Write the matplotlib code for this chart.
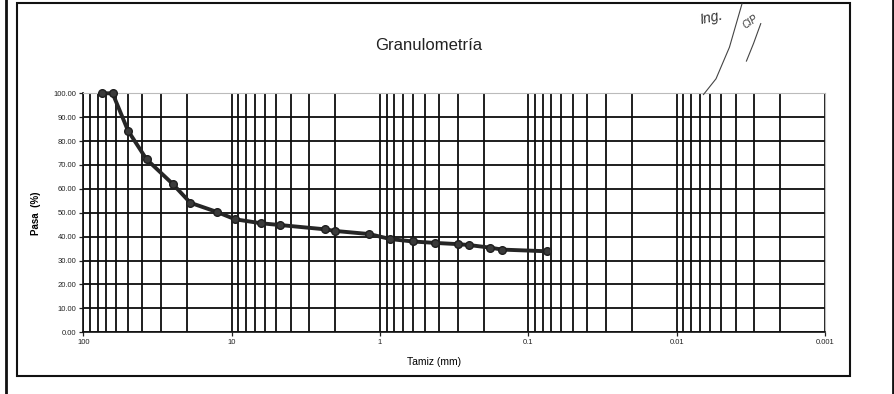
import matplotlib.pyplot as plt
from matplotlib.lines import Line2D
from matplotlib.patches import Rectangle
from matplotlib.ticker import FixedLocator, LogLocator, NullFormatter

# tamices (mm) y porcentaje que pasa
tamiz_mm = [75, 63.5, 50, 37.5, 25, 19, 12.5, 9.5, 6.3, 4.75, 2.36, 2.0,
            1.18, 0.85, 0.6, 0.425, 0.3, 0.25, 0.18, 0.15, 0.075]
pasa = [100.0, 100.0, 84.4, 72.4, 62.1, 54.2, 50.3, 47.3, 45.6, 44.9, 43.1, 42.4,
        41.1, 39.0, 38.0, 37.4, 36.9, 36.5, 35.4, 34.6, 33.9]

x_ticks = [100, 10, 1, 0.1, 0.01, 0.001]
x_labels = ['100', '10', '1', '0.1', '0.01', '0.001']
y_ticks = [0, 10, 20, 30, 40, 50, 60, 70, 80, 90, 100]

plt.rcParams['font.family'] = ['Liberation Sans', 'DejaVu Sans']

fig = plt.figure(figsize=(8.95, 3.94), dpi=100)
ax = fig.add_axes([0.0931, 0.1566, 0.8287, 0.6066])

ax.plot(tamiz_mm, pasa, color='#262626', lw=2.8, marker='o', ms=5.5,
        mfc='#3a3a3a', mec='#1e1e1e', zorder=3, clip_on=False)

ax.set_xscale('log')
ax.set_xlim(100, 0.001)
ax.set_ylim(0, 100)

ax.xaxis.set_major_locator(FixedLocator(x_ticks))
ax.set_xticklabels(x_labels)
ax.xaxis.set_minor_locator(LogLocator(base=10, subs=range(2, 10)))
ax.xaxis.set_minor_formatter(NullFormatter())
ax.set_yticks(y_ticks)
ax.set_yticklabels(['%.2f' % v for v in y_ticks])

ax.grid(True, which='both', axis='x', color='#0d0d0d', lw=1.3)
ax.grid(True, which='major', axis='y', color='#0d0d0d', lw=1.3)
ax.tick_params(axis='both', which='major', labelsize=5.5, length=3, width=0.9,
               colors='#222222', pad=2)
ax.tick_params(axis='x', which='minor', length=0)

for s in ['top', 'right']:
    ax.spines[s].set_color('#bbbbbb')
    ax.spines[s].set_linewidth(0.8)
for s in ['left', 'bottom']:
    ax.spines[s].set_color('#111111')
    ax.spines[s].set_linewidth(1.2)

ax.set_xlabel('Tamiz (mm)', fontsize=7.5)
ax.xaxis.set_label_coords(0.473, -0.105)
ax.set_ylabel('Pasa  (%)', fontsize=7, fontweight='bold', labelpad=9)
fig.text(0.479, 0.885, 'Granulometría', fontsize=12, ha='center', va='center',
         color='#222222')

# marco del gráfico y bordes de la hoja
fig.add_artist(Rectangle((17 / 895, 1 - 376 / 394), (850 - 17) / 895, (376 - 3) / 394,
                         transform=fig.transFigure, fill=False, ec='#111111', lw=1.5))
fig.add_artist(Line2D([6 / 895, 6 / 895], [0, 1], transform=fig.transFigure,
                      color='#111111', lw=2))
fig.add_artist(Line2D([893 / 895, 893 / 895], [0, 1], transform=fig.transFigure,
                      color='#111111', lw=2))

# sello manuscrito
fig.text(0.795, 0.955, 'Ing.', fontsize=10, style='italic', rotation=12,
         ha='center', va='center', color='#333333')
fig.text(0.838, 0.945, 'CIP', fontsize=7, style='italic', rotation=35,
         ha='center', va='center', color='#333333')
fig.add_artist(Line2D([0.786, 0.80, 0.815, 0.829], [0.76, 0.80, 0.88, 0.99],
                      transform=fig.transFigure, color='#444444', lw=0.8))
fig.add_artist(Line2D([0.834, 0.842, 0.850], [0.845, 0.89, 0.94],
                      transform=fig.transFigure, color='#444444', lw=0.8))

fig.savefig('out.png', dpi=100)
